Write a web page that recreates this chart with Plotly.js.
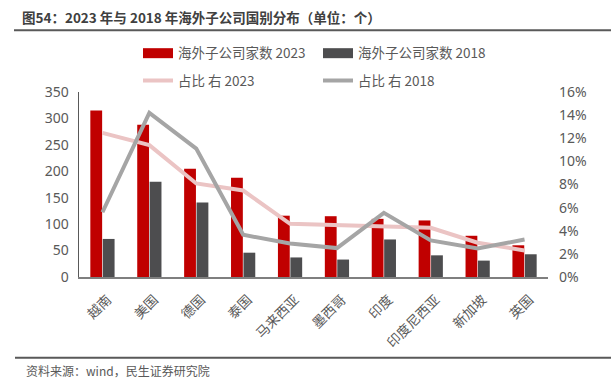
<!DOCTYPE html>
<html>
<head>
<meta charset="utf-8">
<script src="https://cdn.plot.ly/plotly-3.0.1.min.js"></script>
<style>html,body{margin:0;padding:0;background:#fff;}#chart{width:615px;height:390px;}</style>
</head>
<body>
<div id="chart"></div>
<script>
const categories = ["越南","美国","德国","泰国","马来西亚","墨西哥","印度","印度尼西亚","新加坡","英国"];
const count2023 = [315, 288, 205, 188, 116, 115, 110, 107, 78, 60];
const count2018 = [72, 180, 141, 46, 37, 33, 71, 41, 31, 43];
const share2023 = [0.1247, 0.114, 0.0809, 0.0748, 0.046, 0.0448, 0.044, 0.0425, 0.0296, 0.023];
const share2018 = [0.056, 0.142, 0.111, 0.0365, 0.029, 0.025, 0.0555, 0.0316, 0.0247, 0.0324];
const leftTicks = [0, 50, 100, 150, 200, 250, 300, 350];
const rightTicks = [0, 0.02, 0.04, 0.06, 0.08, 0.10, 0.12, 0.14, 0.16];

const names = ["海外子公司家数 2023", "海外子公司家数 2018", "占比 右 2023", "占比 右 2018"];
const RED = "#C00000", DARK = "#4D4D4F", PINK = "#EBC4C4", GRAY = "#A5A5A5";
const CJK = "'Noto Sans CJK SC', 'Noto Sans', sans-serif";

const traces = [
  {type: "bar", x: categories, y: count2023, name: names[0], marker: {color: RED}, showlegend: false, legendgroup: "a"},
  {type: "bar", x: categories, y: count2018, name: names[1], marker: {color: DARK}, showlegend: false, legendgroup: "b"},
  {type: "scatter", mode: "lines", x: [null], y: [null], name: names[0], line: {color: RED, width: 11}, legendgroup: "a", legend: "legend", hoverinfo: "skip"},
  {type: "scatter", mode: "lines", x: [null], y: [null], name: names[1], line: {color: DARK, width: 11}, legendgroup: "b", legend: "legend", hoverinfo: "skip"},
  {type: "scatter", mode: "lines", x: categories, y: share2023, name: names[2], yaxis: "y2", line: {color: PINK, width: 4}, legend: "legend2"},
  {type: "scatter", mode: "lines", x: categories, y: share2018, name: names[3], yaxis: "y2", line: {color: GRAY, width: 4}, legend: "legend2"}
];

const L = 79, R = 548, T = 92, B = 277.5;
const W = R - L, H = B - T;
const px = v => (v - L) / W;
const py = v => (B - v) / H;

const layout = {
  width: 615, height: 390,
  margin: {l: L, r: 615 - R, t: T, b: 390 - B},
  paper_bgcolor: "#fff", plot_bgcolor: "#fff",
  font: {family: CJK, color: "#595959", size: 13},
  title: {text: "图54：2023 年与 2018 年海外子公司国别分布（单位：个）", x: 22/615, xref: "container", xanchor: "left", y: 1 - 18/390, yref: "container", yanchor: "middle",
          font: {family: CJK, size: 13.5, weight: "bold", color: "#404040"}},
  barmode: "group", bargap: 0.47, bargroupgap: 0.05,
  xaxis: {type: "category", tickangle: -45, showline: true, linecolor: "#7F7F7F", linewidth: 1.5, ticks: "", showgrid: false,
          ticklabelstandoff: 8, ticklabelshift: 5,
          tickfont: {family: CJK, size: 13.5, color: "#595959"}, fixedrange: true},
  yaxis: {range: [0, 350], tickvals: leftTicks, showgrid: false, zeroline: false, showline: true, linecolor: "#595959", linewidth: 1.5, ticks: "",
          tickfont: {family: "'Noto Sans', sans-serif", size: 14, color: "#595959"}, ticklabelstandoff: 6},
  yaxis2: {range: [0, 0.16], tickvals: rightTicks, tickformat: ".0%", overlaying: "y", side: "right", showgrid: false, zeroline: false, showline: false, ticks: "",
           tickfont: {family: "'Noto Sans', sans-serif", size: 14, color: "#595959"}, ticklabelstandoff: 10},
  legend: {orientation: "h", x: px(138), xanchor: "left", y: py(53.3), yanchor: "middle", entrywidth: 135, entrywidthmode: "pixels",
           font: {family: CJK, size: 13.5, color: "#595959"}, bgcolor: "rgba(0,0,0,0)", traceorder: "normal"},
  legend2: {orientation: "h", x: px(138), xanchor: "left", y: py(80.7), yanchor: "middle", entrywidth: 135, entrywidthmode: "pixels",
           font: {family: CJK, size: 13.5, color: "#595959"}, bgcolor: "rgba(0,0,0,0)", traceorder: "normal"},
  shapes: [
    {type: "line", xref: "paper", yref: "paper", x0: px(14), x1: px(611), y0: py(30), y1: py(30), line: {color: "#595959", width: 2}},
    {type: "line", xref: "paper", yref: "paper", x0: px(15), x1: px(611), y0: py(358.5), y1: py(358.5), line: {color: "#595959", width: 2}}
  ],
  annotations: [
    {text: "资料来源：wind，民生证券研究院", xref: "paper", yref: "paper", x: px(24), y: py(371), xanchor: "left", yanchor: "middle", showarrow: false,
     font: {family: CJK, size: 12, color: "#595959"}}
  ]
};

Plotly.newPlot("chart", traces, layout, {displayModeBar: false, staticPlot: true});
</script>
</body>
</html>
